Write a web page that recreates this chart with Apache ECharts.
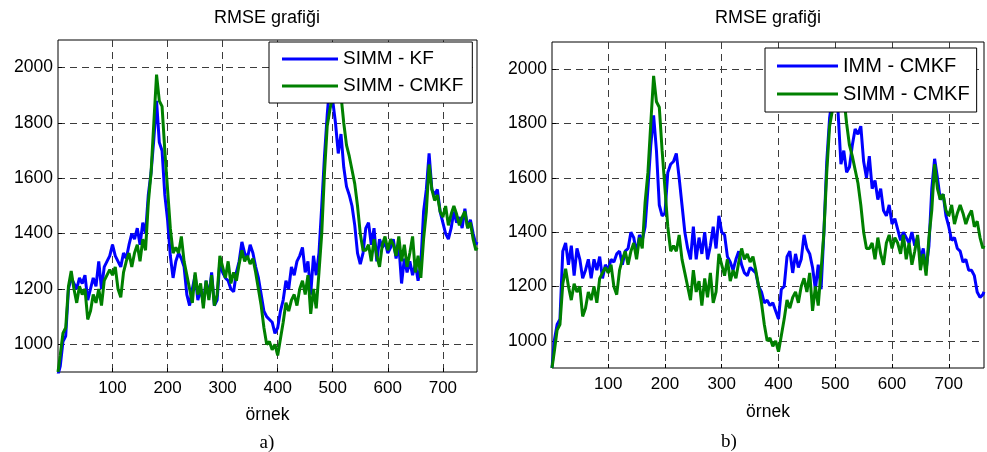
<!DOCTYPE html>
<html>
<head>
<meta charset="utf-8">
<script src="https://cdn.jsdelivr.net/npm/echarts@6/dist/echarts.min.js"></script>
<style>
  html, body { margin: 0; padding: 0; background: #fff; }
  #chart { width: 987px; height: 452px; }
</style>
</head>
<body>
<div id="chart"></div>
<script>
// Sample index (örnek) for each stored value
const samples = [
  1, 5, 10, 15, 20, 25, 30, 35, 40, 45,
  50, 55, 60, 65, 70, 75, 80, 85, 90, 95,
  100, 105, 110, 115, 120, 125, 130, 135, 140, 145,
  150, 155, 160, 165, 170, 175, 180, 185, 190, 195,
  200, 205, 210, 215, 220, 225, 230, 235, 240, 245,
  250, 255, 260, 265, 270, 275, 280, 285, 290, 295,
  300, 305, 310, 315, 320, 325, 330, 335, 340, 345,
  350, 355, 360, 365, 370, 375, 380, 385, 390, 395,
  400, 405, 410, 415, 420, 425, 430, 435, 440, 445,
  450, 455, 460, 465, 470, 475, 480, 485, 490, 495,
  500, 505, 510, 515, 520, 525, 530, 535, 540, 545,
  550, 555, 560, 565, 570, 575, 580, 585, 590, 595,
  600, 605, 610, 615, 620, 625, 630, 635, 640, 645,
  650, 655, 660, 665, 670, 675, 680, 685, 690, 695,
  700, 705, 710, 715, 720, 725, 730, 735, 740, 745,
  750, 755, 760, 762
];

// RMSE of SIMM with a plain Kalman filter
const simmKf = [
  890, 920, 1010, 1030, 1200, 1240, 1220, 1200, 1240, 1220,
  1250, 1160, 1200, 1240, 1210, 1300, 1200, 1280, 1300, 1320,
  1360, 1320, 1300, 1280, 1330, 1310, 1360, 1400, 1380, 1420,
  1360, 1440, 1400, 1540, 1620, 1740, 1880, 1730, 1700, 1540,
  1450, 1320, 1240, 1300, 1330, 1310, 1280, 1180, 1140, 1200,
  1250, 1160, 1200, 1150, 1230, 1170, 1260, 1140, 1160, 1300,
  1260, 1240, 1230, 1200, 1190, 1260, 1300, 1370, 1330, 1310,
  1360, 1330, 1280, 1240, 1180, 1120, 1100, 1090, 1080, 1040,
  1060, 1120, 1160, 1230, 1200, 1280, 1250, 1300, 1320, 1350,
  1260, 1300, 1180, 1320, 1250, 1330, 1500, 1680, 1830, 1950,
  1880, 1800, 1690, 1760, 1640, 1570, 1540, 1500, 1430, 1330,
  1290, 1330, 1420, 1440, 1360, 1420, 1300, 1380, 1350, 1370,
  1330, 1350, 1380, 1310, 1360, 1220, 1310, 1260, 1300, 1250,
  1290, 1230, 1290, 1480, 1560, 1690, 1560, 1540, 1560, 1480,
  1440, 1400, 1380, 1420, 1480, 1440, 1460, 1420, 1490, 1420,
  1450, 1400, 1360, 1370
];

// RMSE of SIMM with the converted-measurement Kalman filter
const simmCmkf = [
  900, 960, 1040, 1060, 1210, 1265, 1200, 1150, 1210, 1180,
  1200, 1090, 1120, 1180, 1150, 1200, 1140, 1230, 1250, 1270,
  1250, 1280, 1200, 1170, 1260, 1300, 1330, 1280, 1330, 1360,
  1300, 1380, 1340, 1510, 1620, 1800, 1975, 1880, 1860, 1700,
  1560, 1420, 1330, 1350, 1330, 1390, 1300, 1250, 1200, 1150,
  1260, 1180, 1220, 1130, 1230, 1160, 1250, 1140, 1180, 1320,
  1280, 1240, 1300, 1220, 1260, 1230, 1290, 1340, 1300, 1320,
  1290, 1310, 1260, 1200, 1140, 1060, 1000, 1010, 980, 1000,
  960, 1020, 1080, 1150, 1120, 1160, 1180, 1140, 1200, 1230,
  1180, 1250, 1110, 1200, 1130, 1260, 1400, 1620, 1790, 1850,
  1900, 1950, 1880, 1900, 1800, 1720, 1680, 1630, 1580, 1500,
  1400, 1340, 1340, 1360, 1300, 1380, 1320, 1280, 1360, 1390,
  1340, 1380, 1360, 1320, 1390, 1300, 1360, 1280, 1330, 1390,
  1260, 1320, 1240, 1380, 1480, 1650, 1560, 1520, 1540, 1480,
  1460, 1500, 1430, 1470, 1500, 1470, 1430, 1460, 1480, 1420,
  1440, 1380, 1340, 1350
];

// RMSE of standard IMM with the converted-measurement Kalman filter
const immCmkf = [
  900, 1000, 1060, 1080, 1330, 1360, 1280, 1350, 1240, 1340,
  1300, 1230, 1260, 1300, 1230, 1300, 1260, 1310, 1230, 1280,
  1260, 1300, 1290, 1320, 1330, 1280, 1330, 1340, 1400, 1380,
  1320, 1390, 1370, 1420, 1560, 1720, 1830, 1700, 1500, 1460,
  1470, 1620, 1650, 1660, 1690, 1600, 1500, 1400, 1340, 1300,
  1420, 1300, 1380, 1320, 1400, 1300, 1350, 1420, 1340, 1460,
  1400, 1390, 1310, 1290, 1260, 1300, 1330, 1280, 1250, 1240,
  1270, 1260, 1250, 1200, 1180, 1140, 1150, 1130, 1140, 1110,
  1080, 1190, 1200, 1310, 1330, 1250, 1320, 1270, 1300, 1390,
  1340, 1320, 1270, 1190, 1280, 1190, 1400, 1660, 1820, 1900,
  1920, 1840, 1650, 1700, 1620, 1640, 1720, 1780, 1760, 1790,
  1660, 1600, 1680, 1560, 1590, 1520, 1560, 1480, 1460, 1500,
  1430, 1450, 1410, 1370, 1400, 1380, 1360, 1400, 1350, 1380,
  1300, 1340, 1260, 1350, 1560, 1670, 1600, 1520, 1540, 1460,
  1420, 1370, 1380, 1340, 1330, 1290, 1300, 1260, 1260, 1240,
  1180, 1160, 1170, 1180
];

const xTicks = [100, 200, 300, 400, 500, 600, 700];
const yTicks = [1000, 1200, 1400, 1600, 1800, 2000];
const panelTitle = 'RMSE grafiği';
const xLabel = 'örnek';
const panelTags = ['a)', 'b)'];

const SANS = '"Liberation Sans", Arial, sans-serif';
const SERIF = '"Liberation Serif", "Times New Roman", serif';
const BLUE = '#0000ff';
const GREEN = '#008000';
const GRID_DASH = { color: '#3c3c3c', width: 1, type: [7, 5] };

function pairs(ys) {
  return samples.map((x, i) => [x, ys[i]]);
}

const grids = [
  { left: 58, top: 40, width: 419, height: 332 },
  { left: 552, top: 42, width: 432, height: 326 }
];

function xAxisFor(gi, gap) {
  return {
    type: 'value', gridIndex: gi, min: 1, max: 762,
    name: xLabel, nameLocation: 'middle', nameGap: gap,
    nameTextStyle: { fontFamily: SANS, fontSize: 17.5, color: '#000' },
    axisLine: { show: false },
    axisTick: { show: true, inside: true, length: 4, customValues: xTicks, lineStyle: { color: '#000' } },
    axisLabel: { customValues: xTicks, fontFamily: SANS, fontSize: 17, color: '#000', margin: 8,
                 formatter: v => String(v) },
    splitLine: { show: true, lineStyle: GRID_DASH }
  };
}

function yAxisFor(gi) {
  return {
    type: 'value', gridIndex: gi, min: 900, max: 2100,
    axisLine: { show: false },
    axisTick: { show: true, inside: true, length: 4, customValues: yTicks, lineStyle: { color: '#000' } },
    axisLabel: { customValues: yTicks, fontFamily: SANS, fontSize: 17.5, color: '#000', margin: 5,
                 formatter: v => String(v) },
    splitLine: { show: true, lineStyle: GRID_DASH }
  };
}

function lineSeries(name, ys, color, gi) {
  return {
    name, type: 'line', xAxisIndex: gi, yAxisIndex: gi,
    data: pairs(ys), symbol: 'none', smooth: false,
    lineStyle: { color, width: 3 }, itemStyle: { color },
    clip: true, z: 2
  };
}

function legendFor(names, left, top, pad, gap, iw, fs) {
  return {
    orient: 'vertical', left, top, data: names,
    padding: pad, itemGap: gap, itemWidth: iw, itemHeight: 3, icon: 'rect',
    backgroundColor: '#fff', borderColor: '#000', borderWidth: 1, borderRadius: 0,
    textStyle: { fontFamily: SANS, fontSize: fs, color: '#000', lineHeight: 20 },
    selectedMode: false, z: 10
  };
}

const chart = echarts.init(document.getElementById('chart'), null, { renderer: 'canvas' });
chart.setOption({
  animation: false,
  backgroundColor: '#fff',
  grid: grids.map(g => Object.assign({ show: true, borderColor: '#000', borderWidth: 1, backgroundColor: '#fff' }, g)),
  xAxis: [xAxisFor(0, 34), xAxisFor(1, 35)],
  yAxis: [yAxisFor(0), yAxisFor(1)],
  legend: [
    legendFor(['SIMM - KF', 'SIMM - CMKF'], 269, 42, [7, 9, 7, 13], 7, 56, 19),
    legendFor(['IMM - CMKF', 'SIMM - CMKF'], 765, 48, [8, 7, 8, 12], 8, 61, 20)
  ],
  series: [
    lineSeries('SIMM - KF', simmKf, BLUE, 0),
    lineSeries('SIMM - CMKF', simmCmkf, GREEN, 0),
    lineSeries('IMM - CMKF', immCmkf, BLUE, 1),
    lineSeries('SIMM - CMKF', simmCmkf, GREEN, 1)
  ],
  graphic: [
    { type: 'text', x: 267, y: 18, style: { text: panelTitle, font: '18px ' + SANS, fill: '#000', textAlign: 'center', textVerticalAlign: 'middle' } },
    { type: 'text', x: 768, y: 18, style: { text: panelTitle, font: '18px ' + SANS, fill: '#000', textAlign: 'center', textVerticalAlign: 'middle' } },
    { type: 'text', x: 267, y: 443, style: { text: panelTags[0], font: '19px ' + SERIF, fill: '#000', textAlign: 'center', textVerticalAlign: 'middle' } },
    { type: 'text', x: 729, y: 442, style: { text: panelTags[1], font: '19px ' + SERIF, fill: '#000', textAlign: 'center', textVerticalAlign: 'middle' } }
  ]
});
</script>
</body>
</html>
